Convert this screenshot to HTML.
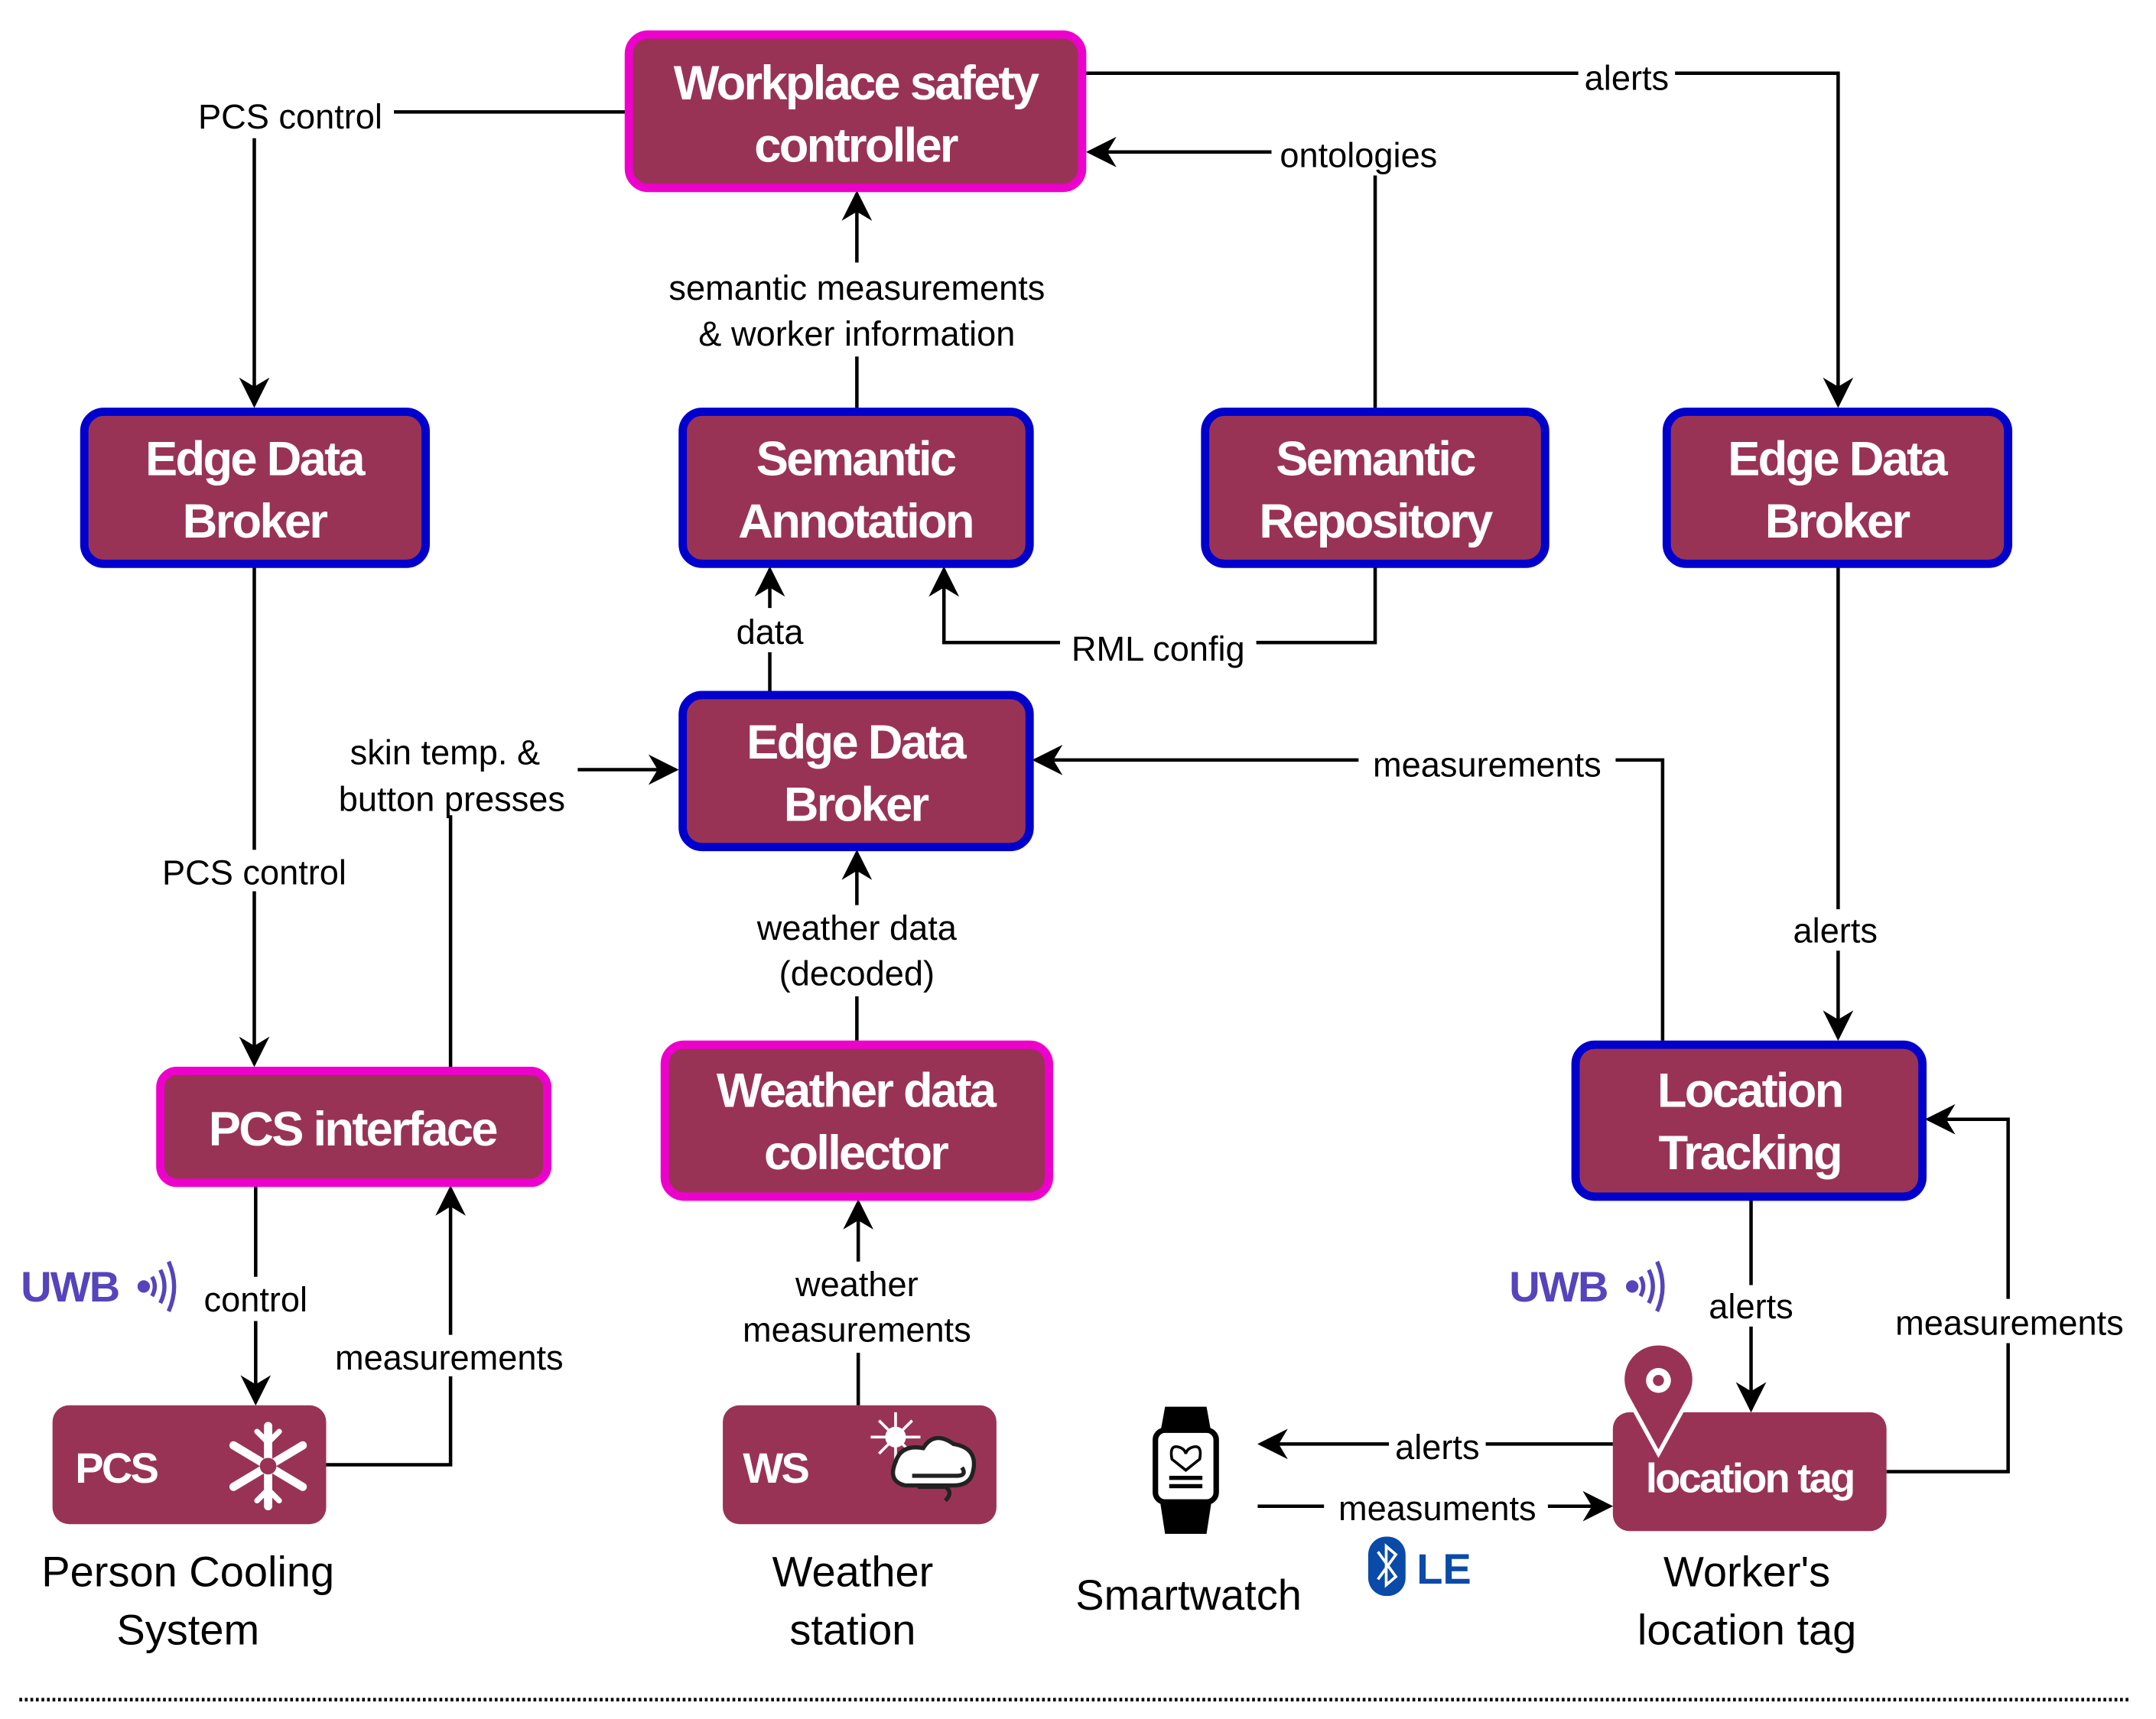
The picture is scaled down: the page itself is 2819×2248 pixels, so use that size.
<!DOCTYPE html>
<html><head><meta charset="utf-8">
<style>
html,body{margin:0;padding:0;background:#fff;}
svg{display:block;}
.lb{font-family:"Liberation Sans",sans-serif;font-size:25px;fill:#000;text-anchor:middle;}
.bx{font-family:"Liberation Sans",sans-serif;font-size:35px;font-weight:bold;fill:#fff;text-anchor:middle;letter-spacing:-1.5px;}
.cap{font-family:"Liberation Sans",sans-serif;font-size:31px;fill:#000;text-anchor:middle;}
.ln{stroke:#000;stroke-width:2.5;fill:none;}
.wb{fill:#fff;stroke:none;}
</style></head>
<body>
<svg width="2819" height="2248" viewBox="0 0 1560 1244" xmlns="http://www.w3.org/2000/svg">
<defs>
<marker id="a" viewBox="0 0 20 20" refX="18" refY="10" markerWidth="22" markerHeight="22" markerUnits="userSpaceOnUse" orient="auto">
<path d="M0,0 L20,10 L0,20 L6,10 Z" fill="#000"/>
</marker>
</defs>
<rect width="1560" height="1244" fill="#fff"/>

<!-- connectors -->
<path class="ln" d="M453,81 H285"/>
<path class="ln" d="M184,100 V293" marker-end="url(#a)"/>
<path class="ln" d="M785,53 H1330 V293" marker-end="url(#a)"/>
<path class="ln" d="M995,295 V110 H788" marker-end="url(#a)"/>
<path class="ln" d="M620,295 V140" marker-end="url(#a)"/>
<path class="ln" d="M557,500 V412" marker-end="url(#a)"/>
<path class="ln" d="M995,410 V465 H683 V412" marker-end="url(#a)"/>
<path class="ln" d="M418,557 H489" marker-end="url(#a)"/>
<path class="ln" d="M326,590 V772"/>
<path class="ln" d="M184,410 V770" marker-end="url(#a)"/>
<path class="ln" d="M1203,753 V550 H749" marker-end="url(#a)"/>
<path class="ln" d="M620,753 V617" marker-end="url(#a)"/>
<path class="ln" d="M1330,410 V751" marker-end="url(#a)"/>
<path class="ln" d="M185,858 V1015" marker-end="url(#a)"/>
<path class="ln" d="M236,1060 H326 V860" marker-end="url(#a)"/>
<path class="ln" d="M621,1017 V870" marker-end="url(#a)"/>
<path class="ln" d="M1267,868 V1020" marker-end="url(#a)"/>
<path class="ln" d="M1365,1065 H1453 V810 H1395" marker-end="url(#a)"/>
<path class="ln" d="M1167,1045 H912" marker-end="url(#a)"/>
<path class="ln" d="M910,1090 H1165" marker-end="url(#a)"/>

<!-- connector labels -->
<rect class="wb" x="132" y="66" width="152" height="30"/><text class="lb" x="210" y="93">PCS control</text>
<rect class="wb" x="1142" y="40" width="70" height="30"/><text class="lb" x="1177" y="65">alerts</text>
<rect class="wb" x="920" y="97" width="128" height="30"/><text class="lb" x="983" y="121">ontologies</text>
<rect class="wb" x="462" y="190" width="316" height="68"/>
<text class="lb" x="620" y="217">semantic measurements</text>
<text class="lb" x="620" y="250">&amp; worker information</text>
<rect class="wb" x="527" y="440" width="60" height="32"/><text class="lb" x="557" y="466">data</text>
<rect class="wb" x="767" y="452" width="142" height="30"/><text class="lb" x="838" y="478">RML config</text>
<text class="lb" x="322" y="553">skin temp. &amp;</text>
<text class="lb" x="327" y="587">button presses</text>
<rect class="wb" x="108" y="615" width="154" height="30"/><text class="lb" x="184" y="640">PCS control</text>
<rect class="wb" x="983" y="537" width="186" height="30"/><text class="lb" x="1076" y="562">measurements</text>
<rect class="wb" x="535" y="655" width="170" height="66"/>
<text class="lb" x="620" y="680">weather data</text>
<text class="lb" x="620" y="713">(decoded)</text>
<rect class="wb" x="1292" y="658" width="74" height="30"/><text class="lb" x="1328" y="682">alerts</text>
<rect class="wb" x="140" y="924" width="90" height="32"/><text class="lb" x="185" y="949">control</text>
<rect class="wb" x="230" y="966" width="190" height="30"/><text class="lb" x="325" y="991">measurements</text>
<rect class="wb" x="524" y="913" width="192" height="66"/>
<text class="lb" x="620" y="938">weather</text>
<text class="lb" x="620" y="971">measurements</text>
<rect class="wb" x="1230" y="930" width="74" height="30"/><text class="lb" x="1267" y="954">alerts</text>
<rect class="wb" x="1360" y="940" width="190" height="32"/><text class="lb" x="1454" y="966">measurements</text>
<rect class="wb" x="1005" y="1030" width="70" height="30"/><text class="lb" x="1040" y="1056">alerts</text>
<rect class="wb" x="958" y="1075" width="162" height="30"/><text class="lb" x="1040" y="1100">measuments</text>

<!-- boxes -->
<g fill="#993355" stroke-width="6">
<rect x="455" y="25" width="328" height="111" rx="14" stroke="#ee00cc"/>
<rect x="61" y="298" width="247" height="110" rx="14" stroke="#0000cc"/>
<rect x="494" y="298" width="251" height="110" rx="14" stroke="#0000cc"/>
<rect x="872" y="298" width="246" height="110" rx="14" stroke="#0000cc"/>
<rect x="1206" y="298" width="247" height="110" rx="14" stroke="#0000cc"/>
<rect x="494" y="503" width="251" height="110" rx="14" stroke="#0000cc"/>
<rect x="116" y="775" width="280" height="81" rx="12" stroke="#ee00cc"/>
<rect x="481" y="756" width="278" height="110" rx="14" stroke="#ee00cc"/>
<rect x="1140" y="756" width="251" height="110" rx="14" stroke="#0000cc"/>
</g>
<g fill="#993355">
<rect x="38" y="1017" width="198" height="86" rx="12"/>
<rect x="523" y="1017" width="198" height="86" rx="12"/>
<rect x="1167" y="1022" width="198" height="86" rx="12"/>
</g>

<text class="bx" x="619" y="72">Workplace safety</text>
<text class="bx" x="619" y="117">controller</text>
<text class="bx" x="184" y="344">Edge Data</text>
<text class="bx" x="184" y="389">Broker</text>
<text class="bx" x="619" y="344">Semantic</text>
<text class="bx" x="619" y="389">Annotation</text>
<text class="bx" x="995" y="344">Semantic</text>
<text class="bx" x="995" y="389">Repository</text>
<text class="bx" x="1329" y="344">Edge Data</text>
<text class="bx" x="1329" y="389">Broker</text>
<text class="bx" x="619" y="549">Edge Data</text>
<text class="bx" x="619" y="594">Broker</text>
<text class="bx" x="255" y="829">PCS interface</text>
<text class="bx" x="619" y="801">Weather data</text>
<text class="bx" x="619" y="846">collector</text>
<text class="bx" x="1266" y="801">Location</text>
<text class="bx" x="1266" y="846">Tracking</text>
<text class="bx" x="84" y="1073" style="font-size:31px">PCS</text>
<text class="bx" x="561" y="1073" style="font-size:31px">WS</text>
<text class="bx" x="1266" y="1080" style="font-size:30px">location tag</text>

<!-- snowflake -->
<g stroke="#fff" stroke-width="6" stroke-linecap="round" fill="none">
<path d="M194,1032 V1090 M169,1046 L219,1076 M169,1076 L219,1046"/>
<path d="M186,1036 L194,1044 L202,1036 M186,1086 L194,1078 L202,1086" stroke-width="4"/>
</g>
<circle cx="194" cy="1061" r="6" fill="#993355"/>
<!-- weather icon -->
<g>
<circle cx="648" cy="1040" r="7" fill="#fff" stroke="#fff"/>
<path d="M648,1022 V1058 M630,1040 H666 M636,1028 L660,1052 M636,1052 L660,1028" stroke="#fff" stroke-width="2"/>
<path d="M655,1075 Q642,1072 648,1058 Q652,1045 668,1048 Q676,1035 690,1045 Q708,1048 704,1065 Q702,1075 690,1075 Z" fill="#fff" stroke="#222" stroke-width="3"/>
<path d="M660,1068 H692 Q700,1068 696,1062 M664,1076 H684 Q690,1080 684,1086" stroke="#222" stroke-width="3" fill="none"/>
</g>

<!-- pin -->
<path d="M1200,1052 L1178,1012 A26,26 0 1 1 1222,1012 Z" fill="#993355" stroke="#fff" stroke-width="3"/>
<circle cx="1200" cy="999" r="9" fill="#fff"/>
<circle cx="1200" cy="999" r="4" fill="#993355"/>

<!-- smartwatch -->
<g>
<path d="M843,1018 H873 L877,1040 H839 Z" fill="#000"/>
<path d="M839,1084 H877 L873,1110 H843 Z" fill="#000"/>
<rect x="836" y="1035" width="44" height="52" rx="7" fill="#fff" stroke="#000" stroke-width="4"/>
<path d="M848,1056 Q846,1046 852,1047 Q857,1048 858,1052 Q859,1048 864,1047 Q870,1046 868,1056 L858,1064 Z" fill="none" stroke="#000" stroke-width="2"/>
<rect x="846" y="1068" width="24" height="3" fill="#000"/><rect x="846" y="1074" width="24" height="3" fill="#000"/>
</g>

<!-- UWB logos -->
<g font-family="Liberation Sans, sans-serif" font-weight="bold" font-size="31" fill="#5544bb">
<text x="15" y="942" letter-spacing="-1">UWB</text>
<text x="1092" y="942" letter-spacing="-1">UWB</text>
</g>
<g fill="none" stroke="#5544bb" stroke-width="3">
<circle cx="104" cy="931" r="3" fill="#5544bb"/>
<path d="M110,924 Q114,931 110,938 M116,919 Q122,931 116,943 M122,913 Q130,931 122,949"/>
<circle cx="1181" cy="931" r="3" fill="#5544bb"/>
<path d="M1187,924 Q1191,931 1187,938 M1193,919 Q1199,931 1193,943 M1199,913 Q1207,931 1199,949"/>
</g>

<!-- BLE -->
<rect x="990" y="1112" width="27" height="43" rx="13" fill="#0a4aa8"/>
<path d="M997,1123 L1010,1141 L1003,1147 V1119 L1010,1125 L997,1143" stroke="#fff" stroke-width="2" fill="none"/>
<text x="1025" y="1146" font-family="Liberation Sans, sans-serif" font-weight="bold" font-size="31" fill="#0a4aa8">LE</text>

<!-- captions -->
<text class="cap" x="136" y="1148">Person Cooling</text>
<text class="cap" x="136" y="1190">System</text>
<text class="cap" x="617" y="1148">Weather</text>
<text class="cap" x="617" y="1190">station</text>
<text class="cap" x="860" y="1165">Smartwatch</text>
<text class="cap" x="1264" y="1148">Worker's</text>
<text class="cap" x="1264" y="1190">location tag</text>

<line x1="14" y1="1230" x2="1540" y2="1230" stroke="#000" stroke-width="2.5" stroke-dasharray="2,2"/>
</svg>
</body></html>
